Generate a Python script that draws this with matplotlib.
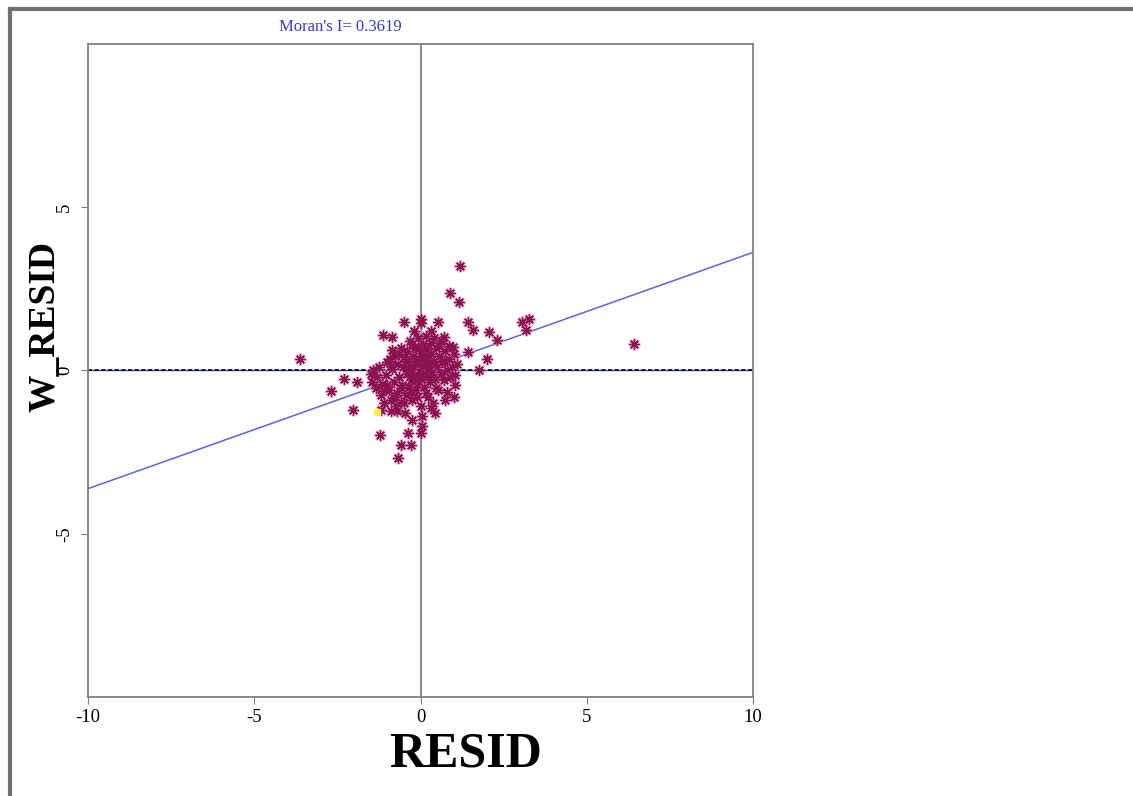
import numpy as np
import matplotlib.pyplot as plt
from matplotlib.lines import Line2D

# Moran scatter data (RESID vs spatially lagged W_RESID)
moran_i = 0.3619

resid = [1.19, 0.89, 1.16, -0.50, 0.0, 0.0, 0.52, 1.42, 1.57, 2.06,
         2.31, 3.06, 3.27, 3.16, 1.44, 2.01, 1.75, -3.62, -2.29, -1.92,
         -2.70, -2.04, -1.22, -0.38, 0.0, -0.60, -0.30, -0.67, -0.25, 0.05,
         0.42, 0.47, 0.72, 1.02, -1.12, -0.87, 0.69, 0.32, 0.99, 6.42,
         -0.87, -0.26, -0.92, -1.42, 1.04, 0.05,
         -1.5, -1.45, -1.35, -1.3, -1.25, -1.2, -1.15, -1.1, -1.05, -1.0,
         -0.95, -0.9, -0.9, -0.85, -0.8, -0.78, -0.75, -0.7, -0.68, -0.65,
         -0.6, -0.6, -0.55, -0.52, -0.5, -0.48, -0.45, -0.42, -0.4, -0.38,
         -0.35, -0.33, -0.3, -0.28, -0.25, -0.22, -0.2, -0.18, -0.15, -0.12,
         -0.1, -0.08, -0.05, -0.03, 0.0, 0.0, 0.02, 0.05, 0.08, 0.1,
         0.12, 0.15, 0.18, 0.2, 0.22, 0.25, 0.28, 0.3, 0.32, 0.35,
         0.38, 0.4, 0.42, 0.45, 0.5, 0.52, 0.55, 0.6, 0.62, 0.65,
         0.7, 0.72, 0.78, 0.8, 0.85, 0.9, 0.95, 1.0, 1.05, 1.1,
         -0.25, -0.1, 0.05, 0.15, 0.25, -0.15, 0.1, -0.35, 0.3, -0.05,
         0.2, -0.45, -0.6, -0.8, -1.0, -0.7, -0.5, -0.3, -0.1, 0.15,
         0.3, 0.55, 0.4, 0.15, -0.2, 0.7, 0.85, -1.2, -1.1, -0.65, -0.9]

w_resid = [3.20, 2.37, 2.10, 1.50, 1.59, 1.46, 1.48, 1.50, 1.23, 1.18,
           0.94, 1.50, 1.58, 1.23, 0.56, 0.36, 0.02, 0.34, -0.26, -0.36,
           -0.63, -1.20, -1.99, -1.91, -1.91, -2.27, -2.27, -2.68, -1.51, -1.40,
           -1.30, -0.53, -0.89, -0.82, 1.09, 1.04, 1.04, 1.20, 0.72, 0.82,
           0.63, 0.82, 0.36, 0.0, -0.15, -1.70,
           -0.1, -0.35, -0.55, -0.2, 0.1, -0.75, -0.4, -1.0, -0.15, 0.25,
           -0.6, -1.25, -0.9, 0.05, -0.35, 0.45, -1.1, -0.7, 0.2, -0.2,
           0.7, -0.95, -0.45, 0.1, 0.4, -1.3, -0.75, -0.1, 0.6, 0.25,
           -0.5, 0.9, -0.3, 0.05, -0.9, 0.45, -0.15, 0.7, -0.6, 0.2,
           -0.4, 1.0, 0.35, -0.05, 0.55, -0.25, -1.1, 0.15, 0.8, -0.5,
           0.4, -0.15, 0.05, 0.65, -0.8, 0.25, -0.35, 0.5, 0.85, -0.05,
           -1.0, 0.3, -0.25, 0.7, 0.1, -0.6, 0.45, -0.1, 0.9, 0.25,
           -0.3, 0.6, 0.0, -0.65, 0.35, -0.2, 0.1, 0.5, -0.45, 0.2,
           0.15, 0.25, 0.45, 0.3, 0.1, -0.3, -0.2, 0.0, -0.15, 0.7,
           0.2, 0.3, -0.55, -0.8, -0.45, -1.25, -1.0, -0.65, -0.8, -0.7,
           -1.15, 0.75, 1.0, 1.05, 1.2, 0.3, 0.75, -1.2, -0.6, 0.5, 0.15]

# selected observation (highlighted)
sel_resid = [-1.30]
sel_w_resid = [-1.27]

xticks = [-10, -5, 0, 5, 10]
yticks = [-5, 0, 5]

plt.rcParams['font.family'] = ['Liberation Serif', 'DejaVu Serif']

fig = plt.figure(figsize=(11.33, 7.96), dpi=100)
ax = fig.add_axes([0.0777, 0.1244, 0.587, 0.8203])

ax.axvline(0, color='#808080', lw=1.3, zorder=1)
ax.axhline(0, color='#3344cc', lw=1.0, zorder=1)
ax.axhline(0, color='black', lw=1.2, ls=(0, (2.5, 1.5)), zorder=2)

xl = np.array([-10, 10])
ax.plot(xl, moran_i * xl, color='#5b63e8', lw=1.1, zorder=2)

ax.plot(resid, w_resid, ls='none', marker=(8, 2, 0), ms=9, mew=2.2,
        color='#eaa0c4', alpha=0.55, zorder=3)
ax.plot(resid, w_resid, ls='none', marker=(8, 2, 0), ms=7.5, mew=1.0,
        color='#8a1250', zorder=4)
ax.plot(sel_resid, sel_w_resid, ls='none', marker='s', ms=5,
        color='#ffee44', zorder=5)

ax.set_xlim(-10, 10)
ax.set_ylim(-10, 10)
ax.set_xticks(xticks)
ax.set_yticks(yticks)
ax.tick_params(direction='out', length=5, color='#808080', labelsize=13.5)
ax.tick_params(axis='y', pad=6)
ax.set_xticklabels([str(t) for t in xticks])
ax.set_yticklabels([str(t) for t in yticks], rotation=90, va='center')
for s in ax.spines.values():
    s.set_color('#808080')
    s.set_linewidth(1.3)

fig.text(0.411, 0.037, 'RESID', fontsize=36, fontweight='bold', ha='center')
fig.text(0.040, 0.59, 'W_RESID', fontsize=27, fontweight='bold',
         rotation=90, ha='center', va='center')
fig.text(0.300, 0.966, "Moran's I= 0.3619", fontsize=12, color='#3838d0',
         ha='center', va='center')

# outer frame
fig.add_artist(Line2D([0.009, 0.009], [0.0, 0.989], color='#707070', lw=3,
                      transform=fig.transFigure))
fig.add_artist(Line2D([0.009, 1.0], [0.989, 0.989], color='#707070', lw=3,
                      transform=fig.transFigure))

plt.savefig('out.png', dpi=100)
